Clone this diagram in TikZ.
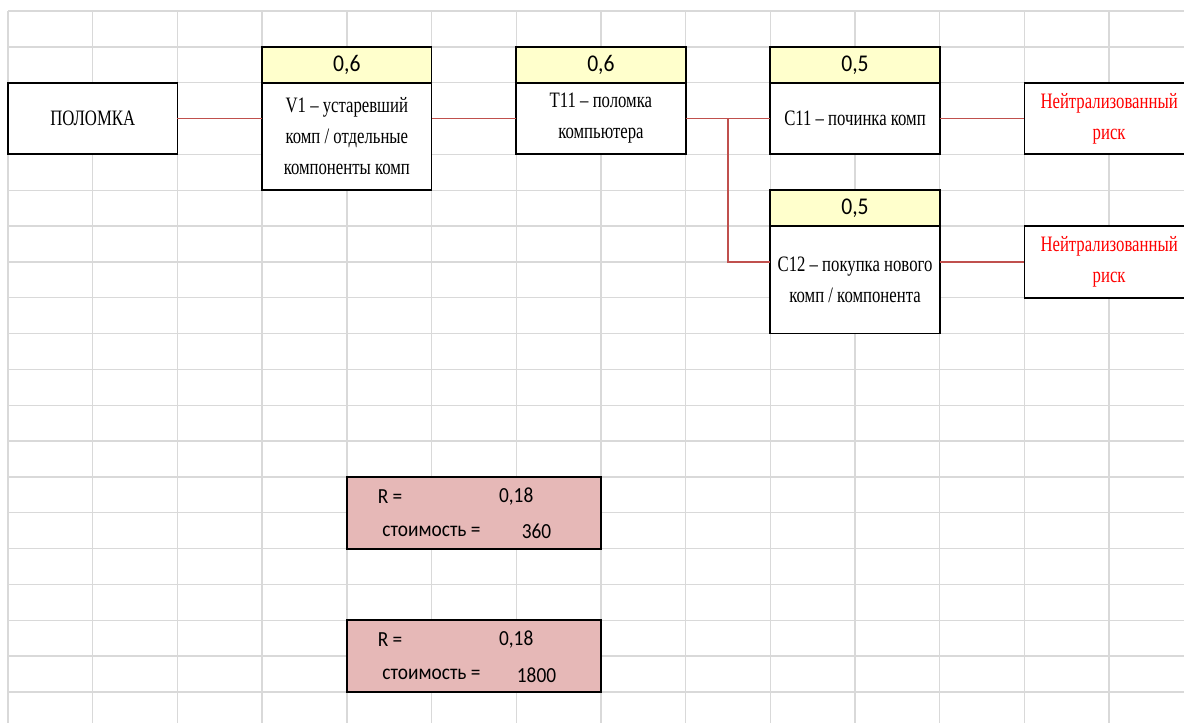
\documentclass[tikz,border=0pt]{standalone}
\usepackage{fontspec}
\setmainfont{Liberation Serif}[FakeStretch=0.76]
\newfontfamily\calibri{Carlito}[FakeStretch=0.9]
\usetikzlibrary{positioning,calc}
\definecolor{xlGrid}{RGB}{217,217,217}
\definecolor{xlYellow}{RGB}{255,255,204}
\definecolor{xlPink}{RGB}{230,184,183}
\definecolor{xlLink}{RGB}{192,80,77}
\definecolor{xlRed}{RGB}{255,0,0}

\begin{document}
\begin{tikzpicture}[x=84.7pt, y=-35.84pt,
  cell/.style={draw, line width=1.8pt, fill=white, align=center, inner sep=0pt, outer sep=0pt,
    minimum width=169.4pt, font=\fontsize{22}{31}\selectfont},
  body/.style={cell, minimum height=#1*35.84pt},
  head/.style={cell, fill=xlYellow, minimum height=35.84pt, font=\calibri\fontsize{24}{28}\selectfont},
  risk/.style={body=2, text=xlRed},
  costbox/.style={draw, line width=1.8pt, fill=xlPink, inner sep=0pt, minimum width=254.1pt, minimum height=71.68pt},
  costtxt/.style={inner sep=0pt, font=\calibri\fontsize{21.5}{25}\selectfont},
  link/.style={xlLink, line width=1.4pt},
  gridline/.style={xlGrid, line width=1.4pt}]
\clip (-0.0945,-0.307) rectangle (13.884,19.838);
% sheet grid
\foreach \k in {0,...,13} \draw[gridline] (\k,0) -- (\k,20);
\foreach \j in {0,...,19} \draw[gridline] (0,\j) -- (14,\j);
% chain
\node[body=2] (pol) at (1,3) {ПОЛОМКА};
\node[body=3] (v1) at (4,3.5) {V1 – устаревший\\комп / отдельные\\компоненты комп};
\node[head, above=0pt of v1] (v1p) {0,6};
\node[body=2] (t11) at (7,3) {T11 – поломка\\компьютера};
\node[head, above=0pt of t11] (t11p) {0,6};
\node[body=2] (c11) at (10,3) {C11 – починка комп};
\node[head, above=0pt of c11] (c11p) {0,5};
\node[body=3] (c12) at (10,7.5) {C12 – покупка нового\\комп / компонента};
\node[head, above=0pt of c12] (c12p) {0,5};
\node[risk] (risk1) at (13,3) {Нейтрализованный\\риск};
\node[risk] (risk2) at (13,7) {Нейтрализованный\\риск};
\draw[link] (pol.east) -- (pol.east -| v1.west);
\draw[link] (t11.west -| v1.east) -- (t11.west);
\draw[link] (t11.east) -- (c11.west);
\coordinate (fork) at ($(t11.east)!0.5!(c11.west)$);
\draw[link] (fork) |- (c12.west |- risk2.west);
\draw[link] (c11.east) -- (risk1.west);
\draw[link] (c12.east |- risk2.west) -- (risk2.west);
% totals
\foreach \n/\y/\c in {1/14/360, 2/18/1800}{
  \node[costbox] (cost\n) at (5.5,\y) {};
  \node[costtxt] (rlbl\n) at (4.51,\y-0.45) {R =};
  \node[costtxt] (rval\n) at (6.0,\y-0.45) {0,18};
  \node[costtxt] (clbl\n) at (5.0,\y+0.52) {стоимость =};
  \node[costtxt] (cval\n) at (6.24,\y+0.52) {\c};
}
\end{tikzpicture}
\end{document}
